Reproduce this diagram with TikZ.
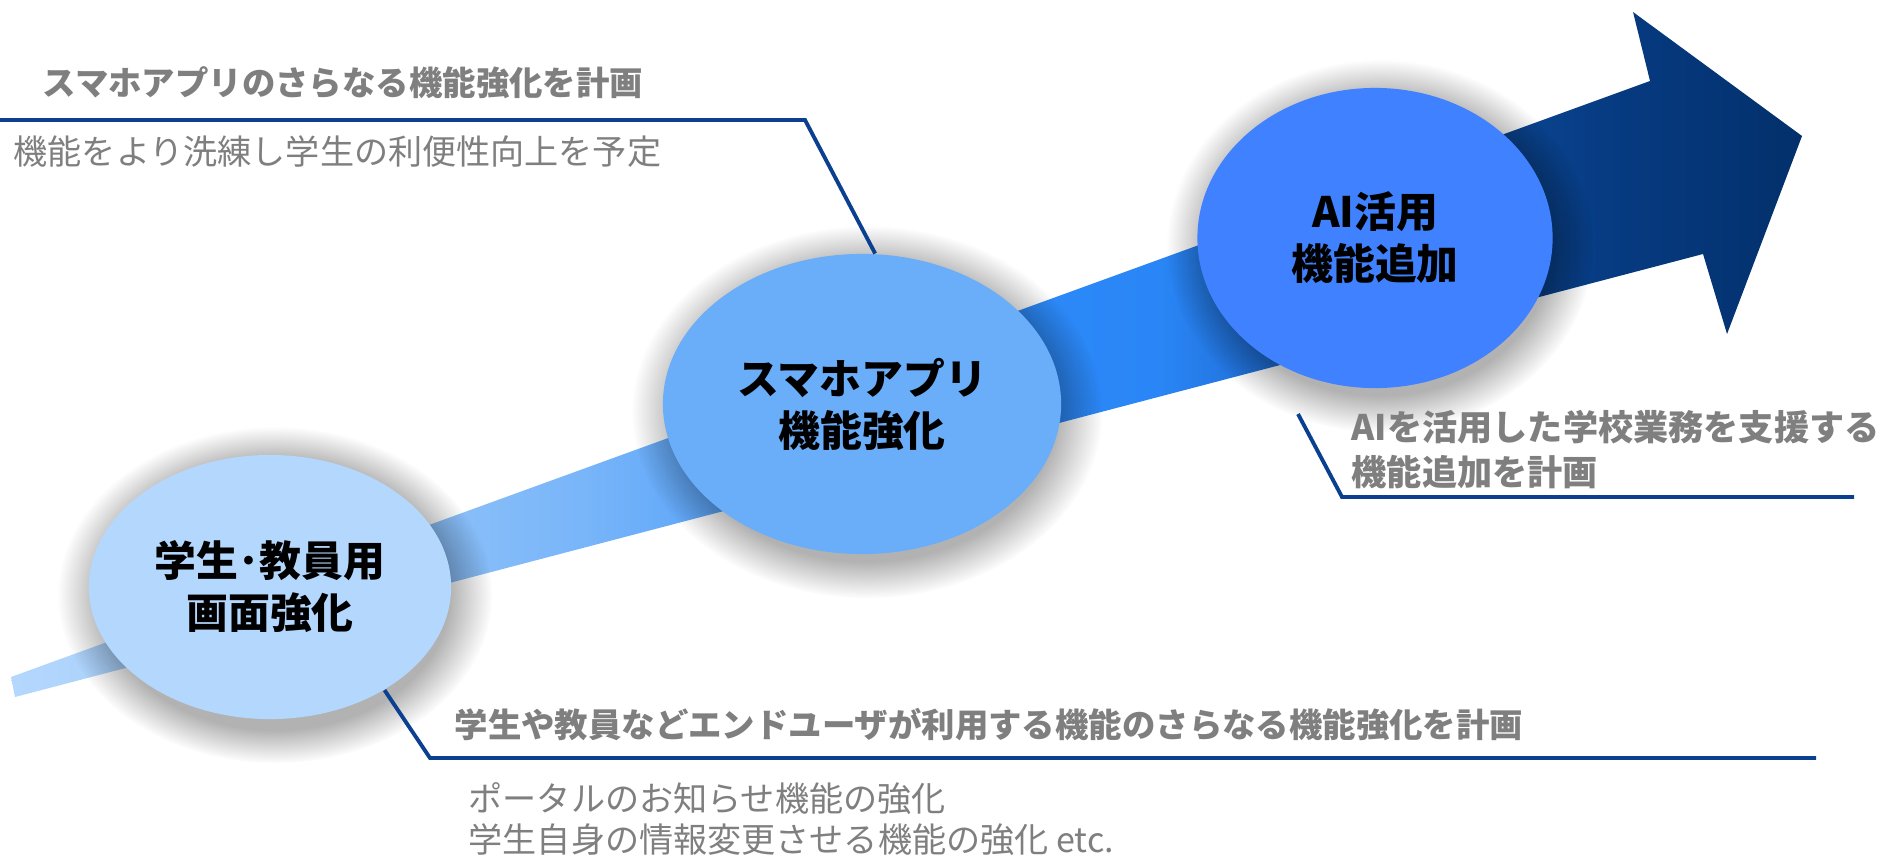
\documentclass[tikz,border=0pt]{standalone}
\usepackage{fontspec}
\setmainfont{Noto Sans CJK JP}
\usetikzlibrary{shapes.geometric,fadings}

\definecolor{screenblue}{HTML}{B4D7FD}
\definecolor{appblue}{HTML}{6AADF9}
\definecolor{aiblue}{HTML}{3F81FE}
\definecolor{calloutblue}{HTML}{0B3F8F}
\definecolor{textgray}{HTML}{7F7F7F}

\pgfdeclarehorizontalshading{bandshade}{100bp}{color(0bp)=(screenblue); color(25bp)=(screenblue);
  color(33bp)=(rgb,255:red,158;green,202;blue,249); color(41bp)=(rgb,255:red,120;green,181;blue,249);
  color(51bp)=(rgb,255:red,46;green,139;blue,248); color(57bp)=(rgb,255:red,42;green,134;blue,246);
  color(63bp)=(rgb,255:red,20;green,87;blue,184); color(66bp)=(rgb,255:red,12;green,71;blue,149);
  color(70bp)=(rgb,255:red,6;green,58;blue,128); color(75bp)=(rgb,255:red,3;green,48;blue,107);
  color(100bp)=(rgb,255:red,3;green,48;blue,107)}

\newcommand{\bubblefont}{\fontsize{11.9pt}{14.8pt}\selectfont\bfseries}
\newcommand{\calloutheadfont}{\fontsize{9.5pt}{12.8pt}\selectfont\bfseries}
\newcommand{\calloutsubfont}{\fontsize{9.7pt}{11.9pt}\selectfont}

\tikzset{
  bubble/.style={ellipse, inner sep=0pt, align=center, font=\bubblefont},
  bubbleshadow/.style={fill=black, opacity=0.3, path fading=circle with fuzzy edge 20 percent},
  callout/.style={draw=calloutblue, line width=1.1pt},
  headline/.style={anchor=west, inner sep=0pt, text=textgray, font=\calloutheadfont, align=left},
  subline/.style={anchor=west, inner sep=0pt, text=textgray, font=\calloutsubfont, align=left}
}

\begin{document}
\begin{tikzpicture}[x=0.01cm, y=-0.01cm]
    \path[use as bounding box] (0,0) rectangle (1880,857);

    % rising band with arrow head
    \shade [shading=bandshade] (11,677) -- (1650,81) -- (1633,12) -- (1802,136) -- (1727,334) -- (1703,254) -- (15,697) -- cycle;

    % soft shadows under the bubbles
    \fill [bubbleshadow] (275,595) ellipse [x radius=2.17cm, y radius=1.68cm];
    \fill [bubbleshadow] (867,412) ellipse [x radius=2.35cm, y radius=1.86cm];
    \fill [bubbleshadow] (1380,246) ellipse [x radius=2.13cm, y radius=1.86cm];

    \node (screen-ellipse) at (270,587) [bubble, fill=screenblue, minimum width=3.62cm, minimum height=2.64cm] {学生･教員用\\画面強化};
    \node (app-ellipse) at (862,404) [bubble, fill=appblue, minimum width=3.98cm, minimum height=3.00cm] {スマホアプリ\\機能強化};
    \node (ai-ellipse) at (1375,238) [bubble, fill=aiblue, minimum width=3.55cm, minimum height=3.00cm] {AI活用\\機能追加};

    \coordinate (app-corner) at (805,120);
    \coordinate (app-end) at (0,120);
    \coordinate (screen-corner) at (430,758);
    \coordinate (screen-end) at (1816,758);
    \coordinate (ai-start) at (1298,414);
    \coordinate (ai-corner) at (1342,497);
    \coordinate (ai-end) at (1854,497);

    \draw [callout] (app-ellipse.85) -- (app-corner) -- (app-end);
    \draw [callout] (screen-ellipse.-42) -- (screen-corner) -- (screen-end);
    \draw [callout] (ai-start) -- (ai-corner) -- (ai-end);

    \node (app-head) at (42,83) [headline] {スマホアプリのさらなる機能強化を計画};
    \node (app-text) at (13,152) [subline] {機能をより洗練し学生の利便性向上を予定};

    \node (ai-head) at (1351,450) [headline, font=\fontsize{10pt}{12.8pt}\selectfont\bfseries] {AIを活用した学校業務を支援する\\機能追加を計画};

    \node (screen-head) at (454,725) [headline] {学生や教員などエンドユーザが利用する機能のさらなる機能強化を計画};
    \node (screen-text) at (468,819) [subline] {ポータルのお知らせ機能の強化\\学生自身の情報変更させる機能の強化 etc.};
\end{tikzpicture}
\end{document}
